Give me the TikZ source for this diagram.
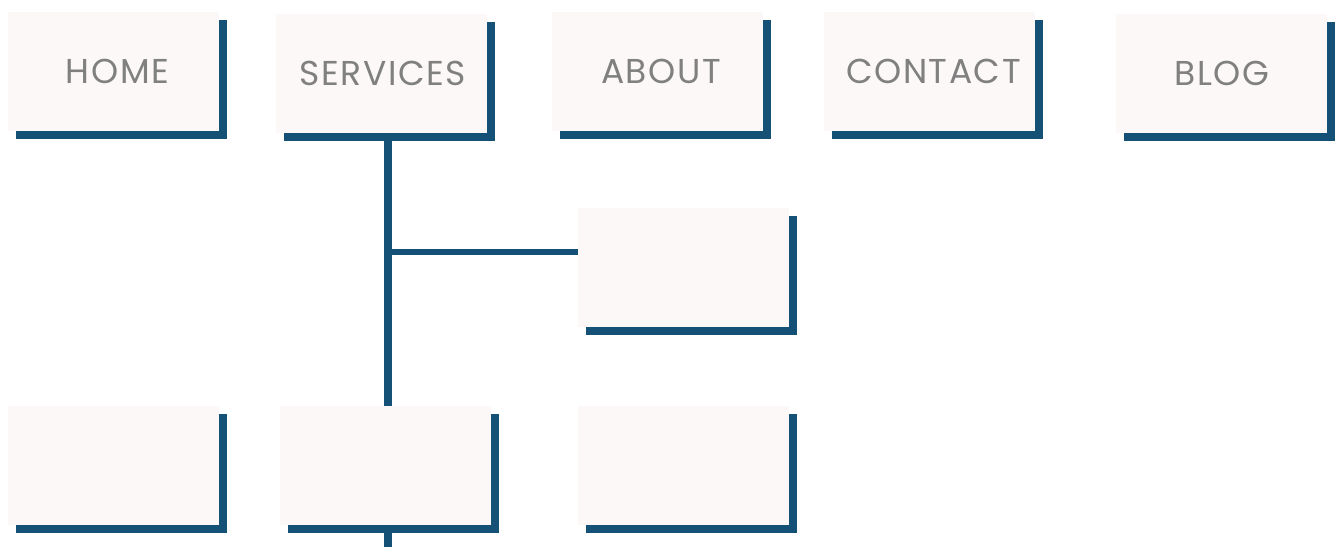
\documentclass[tikz,border=0pt]{standalone}
\usepackage{fontspec}
\setmainfont{Poppins}[LetterSpace=4.5]
\definecolor{boxfill}{HTML}{FBF8F7}
\definecolor{shadowblue}{HTML}{155077}
\definecolor{labelgray}{HTML}{808080}
\begin{document}
\begin{tikzpicture}[x=1pt,y=-1pt,
  menubox/.style={rectangle, inner sep=0pt, minimum width=211pt, minimum height=119pt,
    text height=24pt, text depth=-3pt,
    fill=boxfill, text=labelgray, font=\fontsize{34.5}{34.5}\selectfont,
    preaction={fill=shadowblue, transform canvas={shift={(8pt,-8pt)}}}},
  trunkline/.style={draw=shadowblue, line width=8pt},
  branchline/.style={draw=shadowblue, line width=6pt}]
\fill[white] (0,0) rectangle (1336,547);
\useasboundingbox (0,0) rectangle (1336,547);
\node[menubox] (home) at (113.5,71.5) {\hspace*{8pt}HOME};
\node[menubox, text depth=1pt] (services) at (381.5,73.5) {\hspace*{3pt}SERVICES};
\node[menubox] (about) at (657.5,71.5) {\hspace*{7pt}ABOUT};
\node[menubox] (contact) at (929.5,71.5) {\hspace*{8pt}CONTACT};
\node[menubox, text depth=1pt] (blog) at (1221.5,73.5) {\hspace*{1pt}BLOG};
\node[menubox] (sub1) at (683.5,267.5) {};
\node[menubox] (b1) at (113.5,465.5) {};
\node[menubox] (b2) at (385.5,465.5) {};
\node[menubox] (b3) at (683.5,465.5) {};
\coordinate (trunk) at (388,252);
\coordinate (tail) at (388,547);
\draw[trunkline] (services.south -| trunk) -- (b2.north -| trunk);
\draw[branchline] (trunk) -- (trunk -| sub1.west);
\draw[trunkline] (b2.south -| trunk) -- (tail);
\end{tikzpicture}
\end{document}
